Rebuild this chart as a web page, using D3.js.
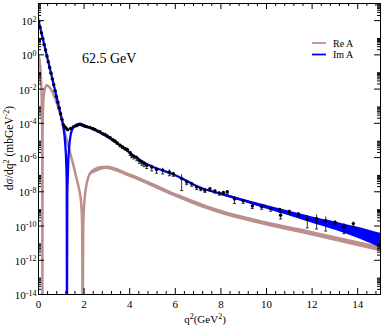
<!DOCTYPE html>
<html lang="en">
<head>
<meta charset="utf-8">
<title>62.5 GeV</title>
<script src="https://cdn.jsdelivr.net/npm/d3@7"></script>
<style>
    body{margin:0;background:#fff;}
    svg{display:block;font-family:"Liberation Serif","DejaVu Serif",serif;}
</style>
</head>
<body>
<div id="chart"></div>
<script>
// values: q^2 in GeV^2, dsigma/dq^2 in mb GeV^-2
var imQ = [0, 0.1, 0.2, 0.3, 0.4, 0.5, 0.6, 0.7, 0.8, 0.9, 1.0, 1.05, 1.1, 1.15, 1.2, 1.24, 1.26, 1.27, 1.285, 1.3,
    1.33, 1.37, 1.42, 1.48, 1.55, 1.65, 1.75, 1.84, 1.92, 2.0, 2.2, 2.5, 3.0, 3.5, 4.0, 4.5, 5.0, 5.5, 6.0, 6.5, 7.0,
    8, 9, 10, 11, 12, 13, 14, 15];
var imV = [126, 34.7, 9.5, 2.57, 0.71, 0.195, 0.054, 0.0148, 0.004, 0.0011, 3.0e-4, 1.6e-4, 8.3e-5, 2.5e-5, 4.5e-6, 4e-7, 3.2e-8, 1e-16, 1e-8, 4e-8,
    6.3e-7, 4e-6, 1.6e-5, 3.5e-5, 5.4e-5, 7.4e-5, 8.5e-5, 8.9e-5, 8.3e-5, 7.4e-5, 5.6e-5, 3.8e-5, 1.66e-5, 6.0e-6, 1.9e-6, 6.3e-7, 2.8e-7, 1.6e-7, 8.9e-8, 4.2e-8, 1.9e-8,
    7.4e-9, 3.0e-9, 1.26e-9, 5.4e-10, 2.2e-10, 1.0e-10, 4.2e-11, 1.4e-11];
// spread of the Im A band at large q^2
var imBandQ = [8, 9, 10, 11, 12, 13, 14, 15];
var imBandHi = [7.4e-9, 3.1e-9, 1.38e-9, 6.3e-10, 2.9e-10, 1.48e-10, 7.4e-11, 3.2e-11];
var imBandLo = [7.4e-9, 2.95e-9, 1.15e-9, 4.6e-10, 1.74e-10, 6.8e-11, 2.3e-11, 6.2e-12];

var reQ = [0, 0.05, 0.1, 0.13, 0.155, 0.172, 0.182, 0.188, 0.192, 0.196, 0.202, 0.215, 0.24, 0.28, 0.33, 0.38, 0.45, 0.55,
    0.7, 0.85, 1.0, 1.11, 1.2, 1.3, 1.4, 1.5, 1.6, 1.7, 1.8, 1.86, 1.91, 1.935, 1.96, 1.985, 2.02, 2.07, 2.15, 2.28,
    2.5, 2.8, 3.1, 3.5, 4.0, 4.5, 5.0, 6.0, 7.0, 8.0, 9.0, 10, 11, 12, 13, 14, 15];
var reV = [1.0, 0.63, 0.18, 0.04, 6e-3, 6e-4, 5e-5, 1e-6, 1e-16, 1e-6, 5e-5, 4e-4, 2.5e-3, 7e-3, 0.0126, 0.0158, 0.0141, 0.01,
    4.0e-3, 1.12e-3, 2.5e-4, 5.8e-5, 2.0e-5, 6.3e-6, 2.0e-6, 6.3e-7, 1.8e-7, 5.0e-8, 1.4e-8, 5.0e-9, 1.0e-9, 1.0e-10, 1e-16, 1.0e-10, 1.26e-9, 7.9e-9, 3.5e-8, 1.1e-7,
    2.0e-7, 2.6e-7, 2.4e-7, 1.6e-7, 8.9e-8, 5.0e-8, 2.6e-8, 6.3e-9, 1.66e-9, 6.3e-10, 2.8e-10, 1.35e-10, 7.1e-11, 3.5e-11, 1.78e-11, 8.9e-12, 4.5e-12];
var reBandQ = [2.3, 3, 4, 6, 8, 10, 12, 15];
var reBandHi = [1.2e-7, 2.7e-7, 9.7e-8, 6.9e-9, 7.0e-10, 1.51e-10, 4.1e-11, 5.4e-12];
var reBandLo = [1.15e-7, 2.35e-7, 8.2e-8, 5.75e-9, 5.7e-10, 1.2e-10, 3.1e-11, 3.7e-12];

// measured points (relative errors)
var dataQ = [0.03, 0.09, 0.15, 0.21, 0.27, 0.33, 0.39, 0.45, 0.51, 0.57, 0.63, 0.69, 0.75, 0.81, 0.87, 0.93, 0.99, 1.05, 1.11, 1.17, 1.23, 1.3,
    1.43, 1.55, 1.67, 1.78, 1.87, 1.96, 2.06, 2.16, 2.28, 2.4, 2.5, 2.6, 2.72, 2.84, 2.94, 3.04, 3.16, 3.28, 3.38, 3.48, 3.6, 3.71, 3.82, 3.92,
    4.04, 4.11, 4.21, 4.33, 4.44, 4.55, 4.65, 4.77, 4.99, 5.2, 5.47, 5.76, 5.94, 6.3, 6.52, 6.74, 6.96, 7.14, 7.32, 7.54, 7.76, 7.95, 8.13, 8.3,
    8.62, 9.0, 9.4, 9.81, 10.21, 10.61, 10.64, 11.02, 11.42, 11.81, 12.22, 12.62, 13.03, 13.42, 13.83];
var dataV = [85, 39, 18, 8.3, 3.8, 1.8, 0.81, 0.37, 0.17, 0.079, 0.036, 0.017, 7.6e-3, 3.5e-3, 1.6e-3, 7.4e-4, 3.4e-4, 1.6e-4, 7.9e-5, 6.0e-5, 5.0e-5, 4.0e-5,
    4.7e-5, 5.8e-5, 6.6e-5, 7.6e-5, 7.9e-5, 7.2e-5, 6.3e-5, 5.8e-5, 5.4e-5, 4.7e-5, 4.1e-5, 3.4e-5, 3.0e-5, 2.3e-5, 2.1e-5, 1.7e-5, 1.4e-5, 1.05e-5, 8.7e-6, 6.6e-6, 4.9e-6, 3.9e-6, 3.2e-6, 2.8e-6,
    1.8e-6, 1.3e-6, 1.1e-6, 9.3e-7, 6.5e-7, 5.1e-7, 4.2e-7, 3.3e-7, 2.6e-7, 1.9e-7, 1.7e-7, 1.35e-7, 1.07e-7, 5.5e-8, 3.5e-8, 2.8e-8, 1.8e-8, 1.45e-8, 1.15e-8, 1.4e-8, 1.05e-8, 7.9e-9, 8.5e-9, 9.5e-9,
    3.5e-9, 2.8e-9, 1.4e-9, 1.26e-9, 9.8e-10, 8.5e-10, 4.0e-10, 6.6e-10, 4.8e-10, 2.4e-10, 2.5e-10, 1.9e-10, 1.55e-10, 8.3e-11, 1.3e-10];
var dataErr = [0.05, 0.05, 0.05, 0.05, 0.05, 0.05, 0.05, 0.05, 0.05, 0.05, 0.05, 0.05, 0.05, 0.05, 0.05, 0.05, 0.05, 0.05, 0.05, 0.08, 0.08, 0.08,
    0.08, 0.08, 0.08, 0.08, 0.08, 0.08, 0.08, 0.08, 0.08, 0.08, 0.08, 0.08, 0.1, 0.1, 0.1, 0.1, 0.1, 0.15, 0.15, 0.15, 0.2, 0.2, 0.2, 0.2,
    0.3, 0.3, 0.3, 0.35, 0.35, 0.35, 0.35, 0.35, 0.4, 0.4, 0.4, 0.4, 0.3, 0.8, 0.3, 0.3, 0.3, 0.25, 0.25, 0.25, 0.25, 0.25, 0.25, 0.25,
    0.45, 0.3, 0.3, 0.3, 0.3, 0.3, 0.4, 0.3, 0.3, 0.7, 0.75, 0.75, 0.3, 0.6, 0.35];

var xTicks = [0, 2, 4, 6, 8, 10, 12, 14];
var yExps = [2, 0, -2, -4, -6, -8, -10, -12, -14];
var legendNames = ["Re A", "Im A"];
var colors = {re: "#bc8f8f", im: "#0000ff"};

function drawChart() {
    var W = 382, H = 327;
    var padL = 38, padR = 380, padT = 3, padB = 294;

    var svg = d3.select("#chart").append("svg")
        .attr("width", W)
        .attr("height", H);

    var x = d3.scaleLinear().domain([0, 15]).range([padL, padR]);
    var y = d3.scaleLog().domain([1e-14, 1e3]).range([padB, padT]);

    svg.append("clipPath").attr("id", "clip")
        .append("rect")
        .attr("x", padL).attr("y", padT)
        .attr("width", padR - padL).attr("height", padB - padT);

    var plot = svg.append("g").attr("clip-path", "url(#clip)");

    var line = d3.line()
        .x(function (d) { return x(d[0]); })
        .y(function (d) { return y(d[1]); })
        .curve(d3.curveMonotoneX);
    var band = d3.area()
        .x(function (d) { return x(d[0]); })
        .y0(function (d) { return y(d[2]); })
        .y1(function (d) { return y(d[1]); })
        .curve(d3.curveMonotoneX);

    function pairs(q, v) { return q.map(function (d, i) { return [d, v[i]]; }); }
    function triples(q, a, b) { return q.map(function (d, i) { return [d, a[i], b[i]]; }); }

    // Re A
    plot.append("path")
        .attr("d", band(triples(reBandQ, reBandHi, reBandLo)))
        .attr("fill", colors.re)
        .attr("stroke", colors.re)
        .attr("stroke-width", 2.5)
        .attr("stroke-linejoin", "round");
    plot.append("path")
        .attr("d", line(pairs(reQ, reV)))
        .attr("fill", "none")
        .attr("stroke", colors.re)
        .attr("stroke-width", 2.5);

    // Im A
    plot.append("path")
        .attr("d", band(triples(imBandQ, imBandHi, imBandLo)))
        .attr("fill", colors.im)
        .attr("stroke", colors.im)
        .attr("stroke-width", 2.3)
        .attr("stroke-linejoin", "round");
    plot.append("path")
        .attr("d", line(pairs(imQ, imV)))
        .attr("fill", "none")
        .attr("stroke", colors.im)
        .attr("stroke-width", 2.3);

    // data with error bars
    var pts = plot.append("g").selectAll("g")
        .data(dataQ.map(function (d, i) { return {q: d, v: dataV[i], e: dataErr[i]}; }))
        .enter().append("g");
    pts.append("line")
        .attr("x1", function (d) { return x(d.q); })
        .attr("x2", function (d) { return x(d.q); })
        .attr("y1", function (d) { return y(d.v * (1 + d.e)); })
        .attr("y2", function (d) { return y(d.v * (1 - d.e)); })
        .attr("stroke", "#000")
        .attr("stroke-width", 0.8);
    pts.append("line")
        .attr("x1", function (d) { return x(d.q) - 1.5; })
        .attr("x2", function (d) { return x(d.q) + 1.5; })
        .attr("y1", function (d) { return y(d.v * (1 - d.e)); })
        .attr("y2", function (d) { return y(d.v * (1 - d.e)); })
        .attr("stroke", "#000")
        .attr("stroke-width", 0.8);
    pts.append("circle")
        .attr("cx", function (d) { return x(d.q); })
        .attr("cy", function (d) { return y(d.v); })
        .attr("r", 1.7)
        .attr("fill", "#000");

    // axes
    var yMajor = yExps.map(function (e) { return Math.pow(10, e); });
    var yMinor = [];
    yExps.forEach(function (e) {
        d3.range(2, 10).forEach(function (k) { yMinor.push(k * Math.pow(10, e)); });
    });
    var xMinor = d3.range(0, 15.01, 0.4).filter(function (v) {
        return Math.abs(v / 2 - Math.round(v / 2)) > 0.01;
    });

    function styleAxis(g) {
        g.selectAll("path,line").attr("stroke", "#000").attr("stroke-width", 1);
        g.selectAll("text").attr("fill", "#000").attr("font-family", "Liberation Serif");
    }

    svg.append("g").attr("transform", "translate(0," + padB + ")")
        .call(d3.axisBottom(x).tickValues(xTicks).tickSize(-6).tickSizeOuter(0).tickPadding(6).tickFormat(d3.format("d")))
        .call(styleAxis)
        .selectAll("text").attr("font-size", 11);
    svg.append("g").attr("transform", "translate(0," + padB + ")")
        .call(d3.axisBottom(x).tickValues(xMinor).tickSize(-3).tickSizeOuter(0).tickFormat(""))
        .call(styleAxis);
    svg.append("g").attr("transform", "translate(0," + padT + ")")
        .call(d3.axisTop(x).tickValues(xTicks).tickSize(-6).tickSizeOuter(0).tickFormat(""))
        .call(styleAxis);
    svg.append("g").attr("transform", "translate(0," + padT + ")")
        .call(d3.axisTop(x).tickValues(xMinor).tickSize(-3).tickSizeOuter(0).tickFormat(""))
        .call(styleAxis);

    var yAxis = svg.append("g").attr("transform", "translate(" + padL + ",0)")
        .call(d3.axisLeft(y).tickValues(yMajor).tickSize(-6).tickSizeOuter(0).tickPadding(1.5).tickFormat(""))
        .call(styleAxis);
    yAxis.selectAll(".tick text").each(function (d) {
        var t = d3.select(this).attr("font-size", 11).attr("dy", "0.42em");
        t.append("tspan").text("10");
        t.append("tspan").attr("dy", "-0.45em").attr("font-size", 8).text(Math.round(Math.log10(d)));
    });
    svg.append("g").attr("transform", "translate(" + padL + ",0)")
        .call(d3.axisLeft(y).tickValues(yMinor).tickSize(-3).tickSizeOuter(0).tickFormat(""))
        .call(styleAxis);
    svg.append("g").attr("transform", "translate(" + padR + ",0)")
        .call(d3.axisRight(y).tickValues(yMajor).tickSize(-6).tickSizeOuter(0).tickFormat(""))
        .call(styleAxis);
    svg.append("g").attr("transform", "translate(" + padR + ",0)")
        .call(d3.axisRight(y).tickValues(yMinor).tickSize(-3).tickSizeOuter(0).tickFormat(""))
        .call(styleAxis);

    // titles
    svg.append("text")
        .attr("x", 82).attr("y", 63)
        .attr("font-size", 14)
        .text("62.5 GeV");

    var xt = svg.append("text")
        .attr("x", 205).attr("y", 323)
        .attr("text-anchor", "middle")
        .attr("font-size", 11);
    xt.append("tspan").text("q");
    xt.append("tspan").attr("dy", -4).attr("font-size", 8).text("2");
    xt.append("tspan").attr("dy", 4).text("(GeV");
    xt.append("tspan").attr("dy", -4).attr("font-size", 8).text("2");
    xt.append("tspan").attr("dy", 4).text(")");

    var yt = svg.append("text")
        .attr("transform", "translate(13,148) rotate(-90)")
        .attr("text-anchor", "middle")
        .attr("font-size", 11.5);
    yt.append("tspan").text("d\u03c3/dq");
    yt.append("tspan").attr("dy", -4).attr("font-size", 8).text("2");
    yt.append("tspan").attr("dy", 4).text(" (mbGeV");
    yt.append("tspan").attr("dy", -4).attr("font-size", 8).text("-2");
    yt.append("tspan").attr("dy", 4).text(")");

    // legend
    var leg = svg.append("g").selectAll("g")
        .data(legendNames)
        .enter().append("g")
        .attr("transform", function (d, i) { return "translate(312," + (43 + i * 11.5) + ")"; });
    leg.append("line")
        .attr("x1", 0).attr("x2", 14)
        .attr("stroke", function (d, i) { return i === 0 ? colors.re : colors.im; })
        .attr("stroke-width", 1.8);
    leg.append("text")
        .attr("x", 21).attr("y", 3.5)
        .attr("font-size", 10)
        .text(function (d) { return d; });
}

drawChart();
</script>
</body>
</html>
